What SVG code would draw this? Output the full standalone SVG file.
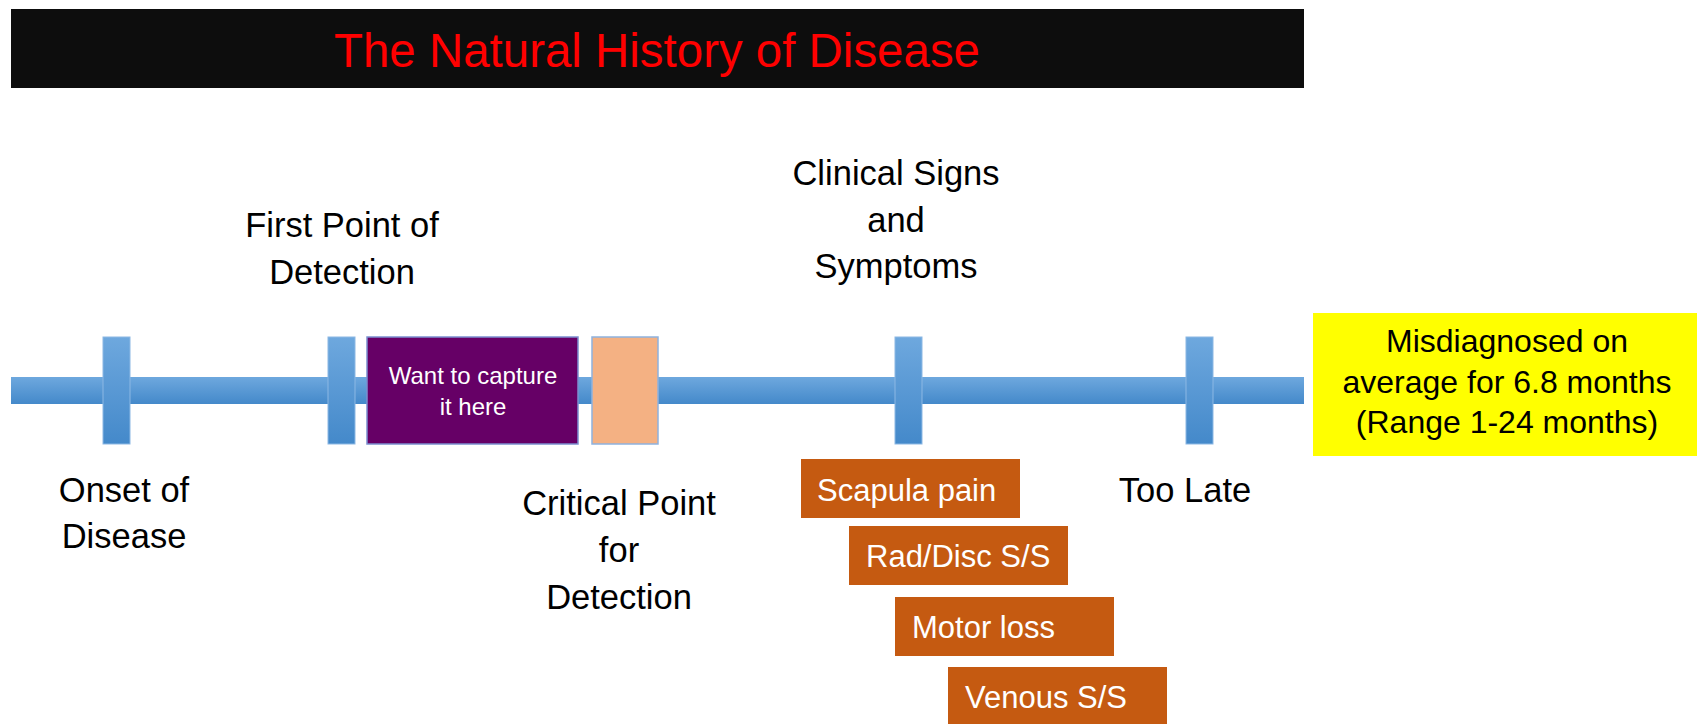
<svg xmlns="http://www.w3.org/2000/svg" width="1697" height="724" viewBox="0 0 1697 724">
<defs>
<linearGradient id="blueV" x1="0" y1="0" x2="0" y2="1">
<stop offset="0" stop-color="#6EA8DE"/>
<stop offset="1" stop-color="#4489CA"/>
</linearGradient>
<style>
.lbl{font-family:"Liberation Sans",Arial,sans-serif;font-size:34.5px;fill:#000;text-anchor:middle}
.sym rect{fill:#C55A11}
.sym text{font-family:"Liberation Sans",Arial,sans-serif;font-size:31px;fill:#fff}
.tick{fill:url(#blueV);stroke:#8CB8E4;stroke-width:1}
</style>
</defs>
<rect width="1697" height="724" fill="#fff"/>
<g id="title">
<rect x="11" y="9" width="1293" height="79" fill="#0D0D0D"/>
<text x="657" y="67" font-family="Liberation Sans,Arial,sans-serif" font-size="48" fill="#FF0000" text-anchor="middle" textLength="646" lengthAdjust="spacingAndGlyphs">The Natural History of Disease</text>
</g>
<g id="connectors">
<rect id="timeline" x="11" y="377" width="1293" height="27" fill="url(#blueV)"/>
</g>
<g id="tick-onset"><rect class="tick" x="103" y="337" width="27" height="107"/></g>
<g id="tick-first"><rect class="tick" x="328" y="337" width="27" height="107"/></g>
<g id="tick-clinical"><rect class="tick" x="895" y="337" width="27" height="107"/></g>
<g id="tick-late"><rect class="tick" x="1186" y="337" width="27" height="107"/></g>
<g id="capture">
<rect x="367" y="337" width="211" height="107" fill="#660066" stroke="#7B8FCF" stroke-width="1.5"/>
<text x="473" y="384" font-family="Liberation Sans,Arial,sans-serif" font-size="24" fill="#fff" text-anchor="middle">Want to capture</text>
<text x="473" y="415" font-family="Liberation Sans,Arial,sans-serif" font-size="24" fill="#fff" text-anchor="middle">it here</text>
</g>
<g id="critical-box">
<rect x="592" y="337" width="66" height="107" fill="#F4B183" stroke="#8FB2DE" stroke-width="1.5"/>
</g>
<g id="label-first">
<text class="lbl" x="342" y="237">First Point of</text>
<text class="lbl" x="342" y="284">Detection</text>
</g>
<g id="label-onset">
<text class="lbl" x="124" y="502">Onset of</text>
<text class="lbl" x="124" y="548">Disease</text>
</g>
<g id="label-critical">
<text class="lbl" x="619" y="515">Critical Point</text>
<text class="lbl" x="619" y="562">for</text>
<text class="lbl" x="619" y="609">Detection</text>
</g>
<g id="label-clinical">
<text class="lbl" x="896" y="185">Clinical Signs</text>
<text class="lbl" x="896" y="232">and</text>
<text class="lbl" x="896" y="278">Symptoms</text>
</g>
<g id="label-late">
<text class="lbl" x="1185" y="502">Too Late</text>
</g>
<g id="misdiagnosed">
<rect x="1313" y="313" width="384" height="143" fill="#FFFF00"/>
<text x="1507" y="352" font-family="Liberation Sans,Arial,sans-serif" font-size="32" fill="#000" text-anchor="middle">Misdiagnosed on</text>
<text x="1507" y="393" font-family="Liberation Sans,Arial,sans-serif" font-size="32" fill="#000" text-anchor="middle">average for 6.8 months</text>
<text x="1507" y="433" font-family="Liberation Sans,Arial,sans-serif" font-size="32" fill="#000" text-anchor="middle">(Range 1-24 months)</text>
</g>
<g id="sym-scapula" class="sym">
<rect x="801" y="459" width="219" height="59"/>
<text x="817" y="501">Scapula pain</text>
</g>
<g id="sym-rad" class="sym">
<rect x="849" y="526" width="219" height="59"/>
<text x="866" y="567">Rad/Disc S/S</text>
</g>
<g id="sym-motor" class="sym">
<rect x="895" y="597" width="219" height="59"/>
<text x="912" y="638">Motor loss</text>
</g>
<g id="sym-venous" class="sym">
<rect x="948" y="667" width="219" height="57"/>
<text x="965" y="708">Venous S/S</text>
</g>
</svg>
